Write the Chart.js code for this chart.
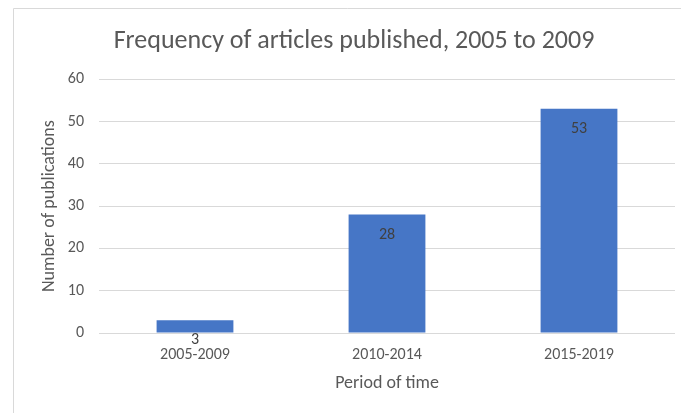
<!DOCTYPE html>
<html><head><meta charset="utf-8">
<script src="https://cdn.jsdelivr.net/npm/chart.js@4"></script>
<style>html,body{margin:0;padding:0;background:#fff}#wrap{width:681px;height:413px}</style>
</head><body><div id="wrap"><canvas id="c"></canvas></div>
<script>
const categories = ["2005-2009", "2010-2014", "2015-2019"];
const publications = [3, 28, 53];
const yTicks = [0, 10, 20, 30, 40, 50, 60];
const chartTitle = "Frequency of articles published, 2005 to 2009";
const xTitle = "Period of time";
const yTitle = "Number of publications";

const FONT = "Carlito, Lato, 'Open Sans', sans-serif";
const GREY = "#595959";

const framePlugin = {
  id: 'frame',
  beforeDraw(chart) {
    const ctx = chart.ctx;
    ctx.save();
    ctx.strokeStyle = '#d9d9d9';
    ctx.lineWidth = 1;
    ctx.beginPath();
    ctx.moveTo(13.5, 413);
    ctx.lineTo(13.5, 8.5);
    ctx.lineTo(681, 8.5);
    ctx.stroke();
    ctx.restore();
  }
};

const labelPlugin = {
  id: 'barLabels',
  afterDatasetsDraw(chart) {
    const ctx = chart.ctx;
    const meta = chart.getDatasetMeta(0);
    ctx.save();
    ctx.font = "16px " + FONT;
    ctx.fillStyle = "#404040";
    ctx.textAlign = 'center';
    ctx.textBaseline = 'middle';
    meta.data.forEach((bar, i) => {
      ctx.fillText(String(publications[i]), bar.x, bar.y + 20);
    });
    ctx.restore();
  }
};

new Chart(document.getElementById('c'), {
  type: 'bar',
  data: {
    labels: categories,
    datasets: [{
      data: publications,
      backgroundColor: '#4676c6',
      barPercentage: 0.4,
      categoryPercentage: 1.0
    }]
  },
  options: {
    responsive: true,
    maintainAspectRatio: false,
    animation: false,
    layout: { padding: { left: 33, right: 6, top: 0, bottom: 0 } },
    plugins: {
      legend: { display: false },
      tooltip: { enabled: false },
      title: {
        display: true,
        text: chartTitle,
        color: GREY,
        font: { family: FONT, size: 26, weight: 'normal' },
        padding: { top: 26, bottom: 22 }
      }
    },
    scales: {
      x: {
        grid: { display: false, drawTicks: false },
        border: { display: false },
        ticks: { color: GREY, font: { family: FONT, size: 16 }, padding: 12, maxRotation: 0 },
        title: { display: true, text: xTitle, color: GREY, font: { family: FONT, size: 18 }, padding: { top: 0, bottom: 19 } },
        afterFit(scale) { scale.height = 80; }
      },
      y: {
        min: 0, max: 60,
        afterBuildTicks(scale) { scale.ticks = yTicks.map(v => ({ value: v })); },
        grid: { color: '#d9d9d9', drawTicks: false },
        border: { display: false },
        ticks: { color: GREY, font: { family: FONT, size: 16 }, padding: 15 },
        title: { display: true, text: yTitle, color: GREY, font: { family: FONT, size: 18 }, padding: { top: 6, bottom: 0 } },
        afterFit(scale) { scale.width = 66; }
      }
    }
  },
  plugins: [framePlugin, labelPlugin]
});
</script></body></html>
